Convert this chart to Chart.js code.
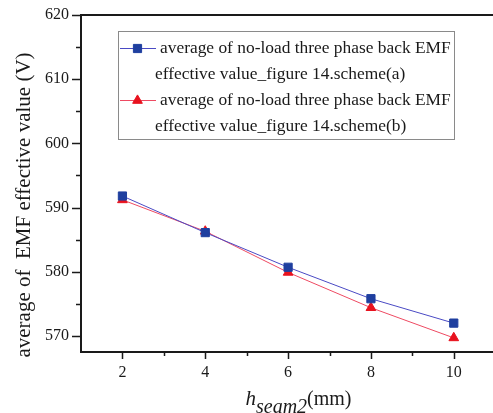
<!DOCTYPE html>
<html>
<head>
<meta charset="utf-8">
<script src="https://cdn.jsdelivr.net/npm/chart.js@4/dist/chart.umd.min.js"></script>
<style>
  html, body { margin: 0; padding: 0; background: #fff; overflow: hidden; }
  canvas { display: block; }
</style>
</head>
<body>
<canvas id="emf" width="502" height="413"></canvas>
<script>
  // h_seam2 values (mm) and the averaged back EMF for both schemes (V)
  const hSeam2 = [2, 4, 6, 8, 10];
  const schemeA = [591.8, 586.1, 580.7, 575.8, 572.0];
  const schemeB = [591.2, 586.3, 579.9, 574.4, 569.7];

  const legendA = ["average of no-load three phase back EMF", "effective value_figure 14.scheme(a)"];
  const legendB = ["average of no-load three phase back EMF", "effective value_figure 14.scheme(b)"];

  const yTicks = [570, 575, 580, 585, 590, 595, 600, 605, 610, 615, 620];
  const xTicks = [1, 2, 3, 4, 5, 6, 7, 8, 9, 10, 11];

  const SERIF = "'Liberation Serif', 'Times New Roman', serif";
  const INK = "#1a1a1a";

  const toPoints = (ys) => ys.map((y, i) => ({ x: hSeam2[i], y }));

  // frame, tick marks, legend and axis titles
  const decor = {
    id: "decor",
    afterDraw(chart) {
      const { ctx, chartArea: a, scales } = chart;
      const xs = scales.x, ys = scales.y;
      ctx.save();

      ctx.strokeStyle = INK;
      ctx.lineWidth = 2;
      ctx.beginPath();
      ctx.moveTo(a.left, a.top);
      ctx.lineTo(chart.width, a.top);
      ctx.moveTo(a.left, a.top - 1);
      ctx.lineTo(a.left, a.bottom);
      ctx.lineTo(chart.width, a.bottom);
      ctx.stroke();

      ctx.lineWidth = 1.5;
      ctx.beginPath();
      yTicks.forEach((v) => {
        const py = Math.round(ys.getPixelForValue(v)) + 0.5;
        const len = v % 10 === 0 ? 9 : 5;
        ctx.moveTo(a.left, py);
        ctx.lineTo(a.left - len, py);
      });
      xTicks.forEach((v) => {
        if (v === xTicks[0]) return;
        const px = Math.round(xs.getPixelForValue(v)) + 0.5;
        const len = v % 2 === 0 ? 7 : 4;
        ctx.moveTo(px, a.bottom);
        ctx.lineTo(px, a.bottom + len);
      });
      ctx.stroke();

      // legend box
      ctx.strokeStyle = "#8a8a8a";
      ctx.lineWidth = 1;
      ctx.strokeRect(118.5, 31.5, 336, 108);
      const entries = [legendA, legendB];
      ctx.font = "17.4px " + SERIF;
      ctx.fillStyle = INK;
      ctx.textBaseline = "alphabetic";
      chart.data.datasets.forEach((ds, i) => {
        const cy = 48 + i * 52;
        ctx.strokeStyle = ds.borderColor;
        ctx.lineWidth = 1;
        ctx.beginPath();
        ctx.moveTo(120, cy + 0.5);
        ctx.lineTo(156, cy + 0.5);
        ctx.stroke();
        ctx.fillStyle = ds.pointBackgroundColor;
        ctx.strokeStyle = ds.pointBorderColor;
        Chart.helpers.drawPoint(ctx, {
          pointStyle: ds.pointStyle, radius: ds.pointRadius, rotation: 0, borderWidth: 1
        }, 137.5, cy + 0.5);
        ctx.fillStyle = INK;
        ctx.fillText(entries[i][0], 160, cy + 5);
        ctx.fillText(entries[i][1], 155, cy + 31);
      });

      // y title
      ctx.save();
      ctx.translate(30, 205);
      ctx.rotate(-Math.PI / 2);
      ctx.textAlign = "center";
      ctx.textBaseline = "alphabetic";
      ctx.font = "21px " + SERIF;
      ctx.fillText("average of  EMF effective value (V)", 0, 0);
      ctx.restore();

      // x title: italic h with italic subscript, then unit
      const parts = [
        { t: "h", f: "italic 21px " + SERIF, dy: 0 },
        { t: "seam2", f: "italic 20px " + SERIF, dy: 8 },
        { t: "(mm)", f: "20px " + SERIF, dy: 0 }
      ];
      let total = 0;
      parts.forEach((p) => { ctx.font = p.f; p.w = ctx.measureText(p.t).width; total += p.w; });
      let px = 298.5 - total / 2;
      ctx.textAlign = "left";
      parts.forEach((p) => {
        ctx.font = p.f;
        ctx.fillText(p.t, px, 405 + p.dy);
        px += p.w;
      });

      ctx.restore();
    }
  };

  new Chart(document.getElementById("emf"), {
    type: "line",
    data: {
      datasets: [
        {
          label: legendA.join(" "),
          data: toPoints(schemeA),
          borderColor: "#4a4ac4",
          borderWidth: 1,
          pointStyle: "rect",
          pointRadius: 5.8,
          pointBackgroundColor: "#1f3f9f",
          pointBorderColor: "#1f3f9f",
          pointBorderWidth: 1
        },
        {
          label: legendB.join(" "),
          data: toPoints(schemeB),
          borderColor: "#ee4a62",
          borderWidth: 1,
          pointStyle: "triangle",
          pointRadius: 5.6,
          pointBackgroundColor: "#e8121e",
          pointBorderColor: "#e8121e",
          pointBorderWidth: 1
        }
      ]
    },
    options: {
      responsive: false,
      animation: false,
      devicePixelRatio: 1,
      layout: { padding: { top: 15, left: 0, right: 0, bottom: 0 } },
      plugins: { legend: { display: false }, tooltip: { enabled: false } },
      scales: {
        x: {
          type: "linear",
          min: 1,
          max: 11,
          grid: { display: false, drawTicks: false },
          border: { display: false },
          afterBuildTicks: (s) => { s.ticks = xTicks.map((v) => ({ value: v })); },
          afterFit: (s) => { s.height = 61; s.paddingLeft = 0; s.paddingRight = 0; },
          ticks: {
            autoSkip: false,
            maxRotation: 0,
            padding: 11,
            color: INK,
            font: { family: SERIF, size: 16 },
            callback: (v) => (v % 2 === 0 ? String(v) : "")
          }
        },
        y: {
          min: 567.5,
          max: 620,
          grid: { display: false, drawTicks: false },
          border: { display: false },
          afterBuildTicks: (s) => { s.ticks = yTicks.map((v) => ({ value: v })); },
          afterFit: (s) => { s.width = 81; s.paddingTop = 0; s.paddingBottom = 0; },
          ticks: {
            padding: 12,
            color: INK,
            font: { family: SERIF, size: 16 },
            callback: (v) => (v % 10 === 0 ? String(v) : "")
          }
        }
      }
    },
    plugins: [decor]
  });
</script>
</body>
</html>
